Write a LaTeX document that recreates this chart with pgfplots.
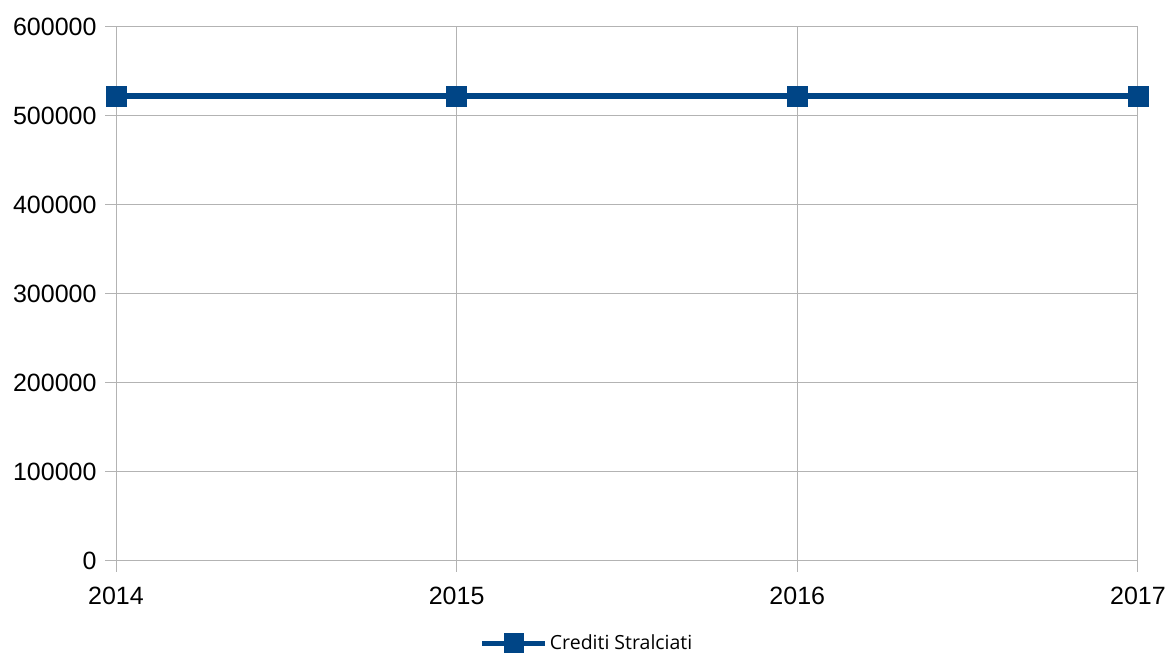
\documentclass[border=0pt]{standalone}
\usepackage{pgfplots}
\pgfplotsset{compat=1.18}
\usepackage{fontspec}
\setmainfont{Liberation Sans}
\newfontfamily\legfont{Open Sans}
\definecolor{serblue}{HTML}{004586}
\definecolor{gridgray}{HTML}{B3B3B3}
\begin{document}
\begin{tikzpicture}
\path[use as bounding box] (0pt,0pt) rectangle (1165pt,653pt);
\begin{axis}[
  at={(116pt,92pt)}, anchor=south west,
  scale only axis, width=1022pt, height=534pt,
  xmin=2014, xmax=2017, ymin=0, ymax=600000,
  xtick={2014,2015,2016,2017},
  ytick={0,100000,200000,300000,400000,500000,600000},
  scaled y ticks=false,
  /pgf/number format/assume math mode=true,
  xticklabel style={/pgf/number format/1000 sep={}, font=\fontsize{25}{29}\selectfont, yshift=-12pt},
  yticklabel style={/pgf/number format/fixed, /pgf/number format/1000 sep={}, font=\fontsize{25}{29}\selectfont, xshift=-5pt},
  grid=major,
  grid style={gridgray, line width=1pt},
  axis line style={gridgray, line width=1pt},
  tick style={gridgray, line width=1pt},
  tick align=outside, tick pos=left,
  major tick length=11pt,
  legend style={at={(0.461,-0.1536)}, anchor=center, draw=none, fill=none,
    font=\legfont\fontsize{19.5}{23}\selectfont, inner sep=0pt},
  legend cell align=left,
  legend image code/.code={
    \draw[serblue, line width=5pt] (0pt,0pt) -- (63pt,0pt);
    \fill[serblue] (24.5pt,-7pt) rectangle (38.5pt,7pt);
  },
]
\addplot[serblue, line width=6pt, mark=square*, mark size=10pt,
  mark options={fill=serblue, draw=serblue, line width=0.5pt}]
  coordinates {(2014,522000) (2015,522000) (2016,522000) (2017,522000)};
\addlegendentry{Crediti Stralciati}
\end{axis}
\end{tikzpicture}
\end{document}
